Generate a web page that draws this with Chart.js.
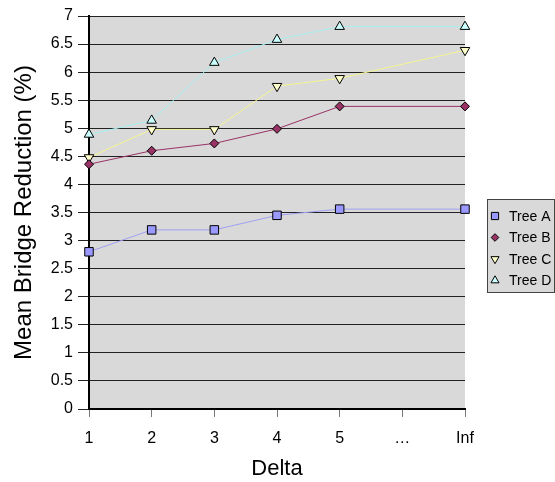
<!DOCTYPE html>
<html>
<head>
<meta charset="utf-8">
<script src="https://cdn.jsdelivr.net/npm/chart.js@4/dist/chart.umd.min.js"></script>
<style>
  body { margin: 0; background: #fff; }
  #wrap { width: 555px; height: 482px; position: relative; }
</style>
</head>
<body>
<div id="wrap"><canvas id="myChart"></canvas></div>
<script>
  const deltaLabels = ['1', '2', '3', '4', '5', '…', 'Inf'];
  const seriesNames = ['Tree A', 'Tree B', 'Tree C', 'Tree D'];
  const treeA = [2.8, 3.19, 3.19, 3.45, 3.56, null, 3.56];
  const treeB = [4.36, 4.6, 4.73, 4.99, 5.39, null, 5.39];
  const treeC = [4.48, 4.98, 4.98, 5.75, 5.89, null, 6.39];
  const treeD = [4.89, 5.14, 6.17, 6.58, 6.81, null, 6.81];

  const FONT = '"Liberation Sans", Arial, sans-serif';

  // line colour, colour of the jump over "…", marker fill
  const lineColors = ['#a0a0f4', '#993366', '#f5f590', '#a8f0f0'];
  const jumpColors = ['#8a6bf0', '#990033', '#ffff00', '#00f0f0'];
  const fillColors = ['#9999ff', '#993366', '#ffffcc', '#ccffff'];
  const shapes = ['rect', 'rectRot', 'triangle', 'triangle'];
  const rotations = [0, 0, 180, 0];
  const radii = [6, 4.5, 5.5, 5.5];

  function makeSet(i, values) {
    return {
      label: seriesNames[i],
      data: values,
      borderColor: lineColors[i],
      borderWidth: 1,
      backgroundColor: fillColors[i],
      pointBackgroundColor: fillColors[i],
      pointBorderColor: '#000',
      pointBorderWidth: 1,
      pointStyle: shapes[i],
      pointRotation: rotations[i],
      pointRadius: radii[i],
      pointHoverRadius: radii[i],
      tension: 0,
      spanGaps: true,
      segment: {
        borderColor: ctx => (ctx.p1DataIndex - ctx.p0DataIndex > 1 ? jumpColors[i] : undefined)
      }
    };
  }

  const plotBack = {
    id: 'plotBack',
    beforeDraw(chart) {
      const { ctx, chartArea: a } = chart;
      ctx.save();
      ctx.fillStyle = '#d9d9d9';
      ctx.fillRect(a.left, a.top, a.right - a.left, a.bottom - a.top);
      ctx.restore();
    }
  };

  // Excel style legend box on the right
  const boxLegend = {
    id: 'boxLegend',
    afterDraw(chart) {
      const ctx = chart.ctx;
      ctx.save();
      ctx.fillStyle = '#d9d9d9';
      ctx.strokeStyle = '#444';
      ctx.lineWidth = 1;
      ctx.fillRect(487.5, 199.5, 67, 93);
      ctx.strokeRect(487.5, 199.5, 67, 93);
      chart.data.datasets.forEach((ds, i) => {
        const y = 216 + i * 21.5;
        const x = 495;
        const r = radii[i] * 0.85;
        ctx.beginPath();
        if (shapes[i] === 'rect') {
          const s = r * Math.SQRT1_2;
          ctx.rect(x - s, y - s, 2 * s, 2 * s);
        } else if (shapes[i] === 'rectRot') {
          ctx.moveTo(x, y - r); ctx.lineTo(x + r, y); ctx.lineTo(x, y + r); ctx.lineTo(x - r, y);
          ctx.closePath();
        } else {
          const d = rotations[i] ? -1 : 1;
          ctx.moveTo(x, y - d * r);
          ctx.lineTo(x + r * 0.866, y + d * r / 2);
          ctx.lineTo(x - r * 0.866, y + d * r / 2);
          ctx.closePath();
        }
        ctx.fillStyle = fillColors[i];
        ctx.fill();
        ctx.strokeStyle = '#000';
        ctx.stroke();
        ctx.fillStyle = '#000';
        ctx.font = '14px ' + FONT;
        ctx.textBaseline = 'middle';
        ctx.textAlign = 'left';
        ctx.fillText(ds.label, 509, y + 1);
      });
      ctx.restore();
    }
  };

  const config = {
    type: 'line',
    data: {
      labels: deltaLabels,
      datasets: [makeSet(0, treeA), makeSet(1, treeB), makeSet(2, treeC), makeSet(3, treeD)]
    },
    options: {
      responsive: true,
      maintainAspectRatio: false,
      animation: false,
      layout: { padding: { top: 16, right: 90, bottom: 0, left: 0 } },
      plugins: {
        legend: { display: false },
        tooltip: { enabled: false }
      },
      scales: {
        x: {
          type: 'category',
          offset: false,
          grid: { drawOnChartArea: false, drawTicks: true, tickLength: 8, color: '#777' },
          border: { color: '#000', width: 2 },
          ticks: { color: '#000', font: { family: FONT, size: 16 }, padding: 12, maxRotation: 0, autoSkip: false },
          title: { display: true, text: 'Delta', color: '#000', font: { family: FONT, size: 22 }, padding: { top: 4, bottom: 0 } },
          afterFit(scale) { scale.height = 73; }
        },
        y: {
          min: 0,
          max: 7,
          ticks: {
            stepSize: 0.5, color: '#000', font: { family: FONT, size: 16 }, padding: 5,
            callback: v => String(Math.round(v * 10) / 10)
          },
          grid: { color: '#222', lineWidth: 1, tickLength: 11 },
          border: { color: '#000', width: 2 },
          title: { display: true, text: 'Mean Bridge Reduction (%)', color: '#000', font: { family: FONT, size: 24 }, padding: { top: 10, bottom: 0 } },
          afterFit(scale) { scale.width = 89; }
        }
      }
    },
    plugins: [plotBack, boxLegend]
  };

  const myChart = new Chart(document.getElementById('myChart'), config);
</script>
</body>
</html>
